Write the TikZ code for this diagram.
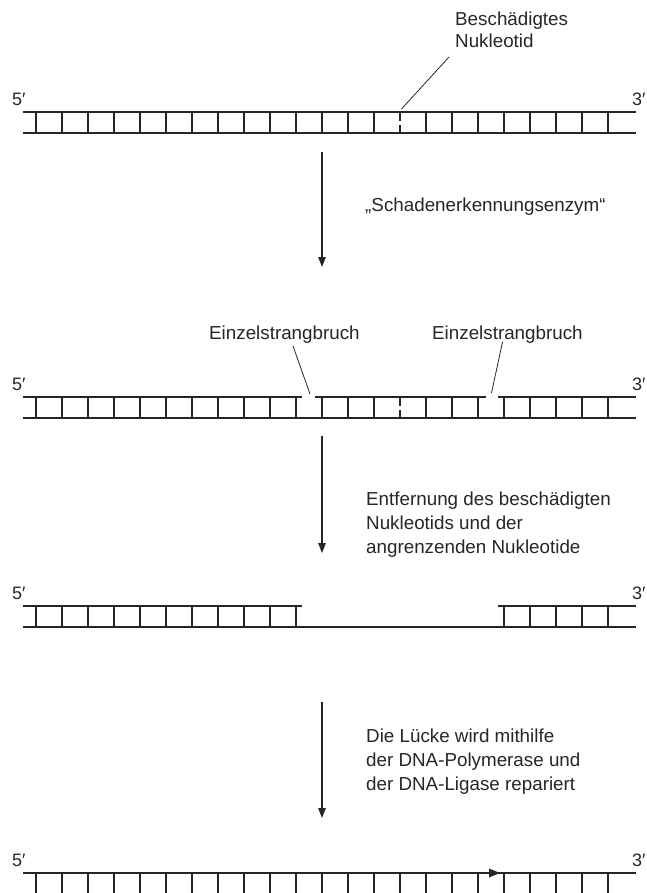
\documentclass[tikz,border=0pt]{standalone}
\usepackage{fontspec}
\setmainfont{Liberation Sans}
\usetikzlibrary{arrows.meta}
\begin{document}
\begin{tikzpicture}[x=1pt,y=-1pt,
  strand/.style={line width=1.6pt, draw=black!85},
  rung/.style={line width=1.2pt, draw=black!85},
  pointer/.style={line width=0.8pt, draw=black!85},
  bigarrow/.style={line width=1.3pt, draw=black!85, -{Triangle[length=10pt,width=7.5pt]}},
  lbl/.style={anchor=base west, inner sep=0pt, font=\fontsize{18.8}{24}\selectfont, text=black!85},
  endlbl/.style={anchor=base west, inner sep=0pt, font=\fontsize{18}{22}\selectfont, text=black!85}
]
\useasboundingbox (0,0) rectangle (646,893);

% ---------- Strand 1 ----------
\draw[strand] (23,112) -- (636,112);
\draw[strand] (23,133) -- (636,133);
\foreach \x in {36,62,...,374,426,452,...,608} \draw[rung] (\x,112) -- (\x,133);
\draw[rung] (400,112) -- (400,121.5);
\draw[rung] (400,125.5) -- (400,133);
\node[endlbl] (f1) at (12,106) {5′};
\node[endlbl] (t1) at (632,106) {3′};
\node[lbl] (dmg1) at (455,26) {Beschädigtes};
\node[lbl] (dmg2) at (455,48) {Nukleotid};
\coordinate (dmgA) at (449,57);
\coordinate (dmgB) at (401.5,109);
\draw[pointer] (dmgA) -- (dmgB);

% ---------- Arrow 1 ----------
\coordinate (a1s) at (322,152);
\coordinate (a1e) at (322,267);
\draw[bigarrow] (a1s) -- (a1e);
\node[lbl] (enz) at (365,212) {„Schadenerkennungsenzym“};

% ---------- Strand 2 ----------
\draw[strand] (23,397) -- (302,397);
\draw[strand] (315,397) -- (486,397);
\draw[strand] (498,397) -- (636,397);
\draw[strand] (23,418) -- (636,418);
\foreach \x in {36,62,...,374,426,452,...,608} \draw[rung] (\x,397) -- (\x,418);
\draw[rung] (400,397) -- (400,406);
\draw[rung] (400,410) -- (400,418);
\node[endlbl] (f2) at (12,390) {5′};
\node[endlbl] (t2) at (632,390) {3′};
\node[lbl] (br1) at (209,339) {Einzelstrangbruch};
\node[lbl] (br2) at (432,339) {Einzelstrangbruch};
\coordinate (b1A) at (293,346);
\coordinate (b1B) at (310,394);
\coordinate (b2A) at (502.5,342);
\coordinate (b2B) at (491.5,393);
\draw[pointer] (b1A) -- (b1B);
\draw[pointer] (b2A) -- (b2B);

% ---------- Arrow 2 ----------
\coordinate (a2s) at (322,436);
\coordinate (a2e) at (322,553);
\draw[bigarrow] (a2s) -- (a2e);
\node[lbl] (rm1) at (366,505) {Entfernung des beschädigten};
\node[lbl] (rm2) at (366,529) {Nukleotids und der};
\node[lbl] (rm3) at (366,553) {angrenzenden Nukleotide};

% ---------- Strand 3 ----------
\draw[strand] (23,606) -- (302,606);
\draw[strand] (498,606) -- (636,606);
\draw[strand] (23,627) -- (636,627);
\foreach \x in {36,62,...,296,504,530,...,608} \draw[rung] (\x,606) -- (\x,627);
\node[endlbl] (f3) at (12,599) {5′};
\node[endlbl] (t3) at (632,599) {3′};

% ---------- Arrow 3 ----------
\coordinate (a3s) at (322,702);
\coordinate (a3e) at (322,818);
\draw[bigarrow] (a3s) -- (a3e);
\node[lbl] (rp1) at (366,742) {Die Lücke wird mithilfe};
\node[lbl] (rp2) at (366,766) {der DNA-Polymerase und};
\node[lbl] (rp3) at (366,790) {der DNA-Ligase repariert};

% ---------- Strand 4 ----------
\draw[strand] (23,873) -- (636,873);
\draw[strand] (23,894) -- (636,894);
\foreach \x in {36,62,...,608} \draw[rung] (\x,873) -- (\x,894);
\fill[black!85] (500,873) -- (489,868.5) -- (489,877.5) -- cycle;
\node[endlbl] (f4) at (12,866) {5′};
\node[endlbl] (t4) at (632,866) {3′};
\end{tikzpicture}
\end{document}
